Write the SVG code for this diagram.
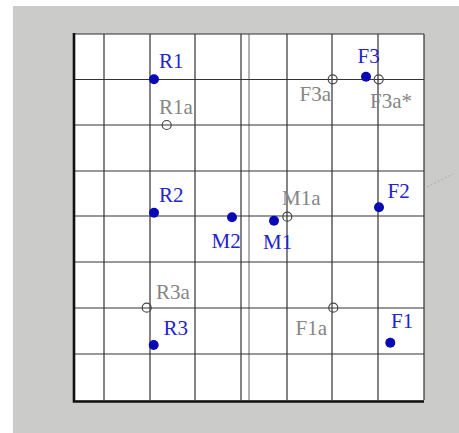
<svg xmlns="http://www.w3.org/2000/svg" width="459" height="433" viewBox="0 0 459 433">
<style>
.g{stroke:#333;stroke-width:1.2;fill:none}
.gl{stroke:#666;stroke-width:1;fill:none}
.dot{fill:#0a0ab4}
.open{fill:none;stroke:#444;stroke-width:1.2}
.bl{font-family:"Liberation Serif","Times New Roman",serif;font-size:21px;fill:#2222d0}
.gy{font-family:"Liberation Serif","Times New Roman",serif;font-size:21px;fill:#858585}
</style>
<rect x="0" y="0" width="459" height="433" fill="#ffffff"/>
<rect x="13" y="6" width="446" height="427" fill="#cbcbc9"/>
<rect x="74" y="34" width="350" height="366" fill="#ffffff"/>
<g id="grid">
<path class="g" d="M104 34V400M150 34V400M195 34V400M241 34V400M287 34V400M332 34V400M378 34V400"/>
<path class="gl" d="M249 34V400"/>
<path class="g" d="M74 79.5H424M74 125H424M74 171H424M74 216H424M74 262H424M74 308H424M74 354H424"/>
<path class="g" d="M74 34H424M424 34V400"/>
<path d="M74 33V401.5H424" fill="none" stroke="#111" stroke-width="2.6"/>
<path d="M427 187L453 174" stroke="#aaa" stroke-width="1" stroke-dasharray="2 2" fill="none"/>
</g>
<g id="connectors"></g>
<g id="R1"><circle class="dot" cx="154" cy="79.3" r="5"/><text class="bl" x="159" y="68">R1</text></g>
<g id="R1a"><circle class="open" cx="166.7" cy="125" r="4.5"/><text class="gy" x="159" y="114">R1a</text></g>
<g id="R2"><circle class="dot" cx="154" cy="212.7" r="5"/><text class="bl" x="159" y="201.5">R2</text></g>
<g id="M2"><circle class="dot" cx="232" cy="217.3" r="5"/><text class="bl" x="211.5" y="248">M2</text></g>
<g id="M1"><circle class="dot" cx="274" cy="220.7" r="5"/><text class="bl" x="263" y="249">M1</text></g>
<g id="M1a"><circle class="open" cx="287.3" cy="216.7" r="4.5"/><text class="gy" x="282" y="205">M1a</text></g>
<g id="F2"><circle class="dot" cx="379" cy="207.3" r="5"/><text class="bl" x="387.5" y="198">F2</text></g>
<g id="R3a"><circle class="open" cx="146.7" cy="307.7" r="4.5"/><text class="gy" x="156" y="299">R3a</text></g>
<g id="R3"><circle class="dot" cx="153.7" cy="345" r="5"/><text class="bl" x="163.5" y="335">R3</text></g>
<g id="F1a"><circle class="open" cx="333.3" cy="307.7" r="4.5"/><text class="gy" x="295.5" y="335">F1a</text></g>
<g id="F1"><circle class="dot" cx="390.3" cy="342.7" r="5"/><text class="bl" x="391" y="328">F1</text></g>
<g id="F3"><circle class="dot" cx="366" cy="76.7" r="5"/><text class="bl" x="357.5" y="63">F3</text></g>
<g id="F3a"><circle class="open" cx="332.7" cy="79.3" r="4.5"/><text class="gy" x="299.5" y="101">F3a</text></g>
<g id="F3a_star"><circle class="open" cx="378.7" cy="79.3" r="4.5"/><text class="gy" x="370" y="107.5">F3a*</text></g>
</svg>
